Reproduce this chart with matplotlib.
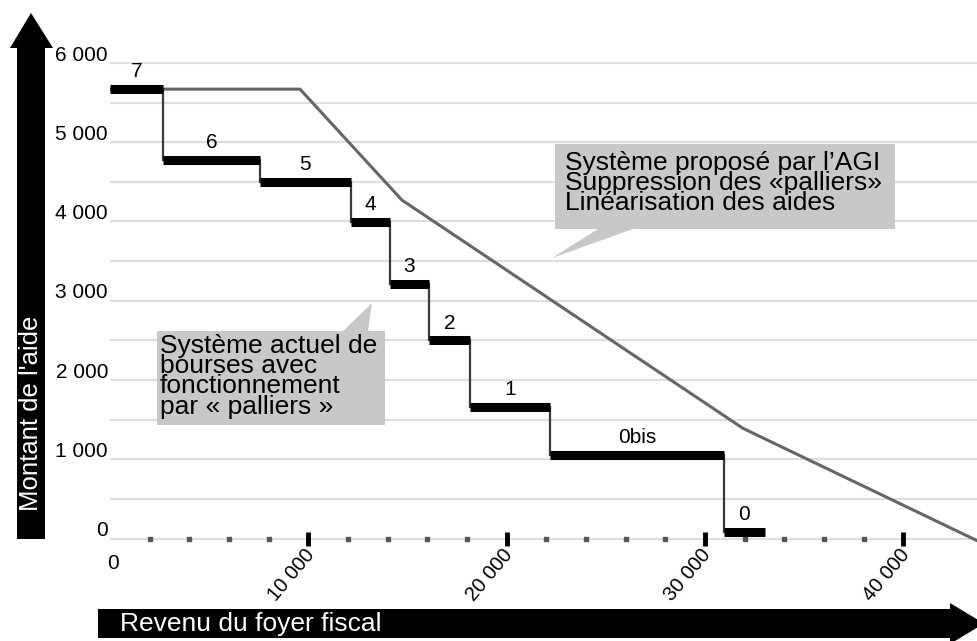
import matplotlib
matplotlib.use("Agg")
import matplotlib.pyplot as plt
from matplotlib.patches import Polygon
from matplotlib.transforms import Affine2D
import numpy as np

plt.rcParams["font.family"] = ["Liberation Sans", "DejaVu Sans"]

# --- data ---
step_names = ["7", "6", "5", "4", "3", "2", "1", "0bis", "0"]
step_amounts = [5670, 4780, 4500, 3990, 3210, 2500, 1665, 1050, 80]
step_bounds = [0, 2670, 7560, 12150, 14120, 16090, 18150, 22190, 30960, 33030]

proposed_x = [0, 9580, 14720, 31920, 44000]
proposed_y = [5670, 5670, 4270, 1390, -60]

y_ticks = [0, 1000, 2000, 3000, 4000, 5000, 6000]
y_labels = ["0", "1 000", "2 000", "3 000", "4 000", "5 000", "6 000"]
x_ticks = [10000, 20000, 30000, 40000]
x_labels = ["10 000", "20 000", "30 000", "40 000"]
x_minor = [v for v in range(2000, 40000, 2000) if v % 10000]
grid_y = list(range(0, 6001, 500))

W, H = 978, 641
fig = plt.figure(figsize=(W / 100, H / 100), dpi=100)
# pixel coords (origin top-left) -> figure
px = Affine2D().scale(1 / W, -1 / H).translate(0, 1) + fig.transFigure

ax = fig.add_axes([110 / W, (H - 560) / H, 868 / W, 530 / H])
ax.set_xlim(0, 43770)
ax.set_ylim(-271, 6416)
ax.axis("off")

# grid
ax.hlines(grid_y, 0, 43770, color="#dedede", lw=1.5, zorder=1)

# ticks on the zero line
ax.plot(x_minor, np.zeros(len(x_minor)), "s", ms=2.6, color="#555555", zorder=2)
ax.plot(x_ticks, np.zeros(len(x_ticks)), "|", ms=10, mew=3.5, color="black", zorder=2)

# tick labels
for v, lab in zip(y_ticks, y_labels):
    ax.text(-100, v + 100, lab, ha="right", va="center", fontsize=15, clip_on=False)
ax.text(150, -190, "0", ha="center", va="top", fontsize=15)
for v, lab in zip(x_ticks, x_labels):
    ax.text(v + 500, -90, lab, ha="right", va="top", rotation=50, fontsize=14.5)

# proposed linear system
ax.plot(proposed_x, proposed_y, color="#666666", lw=2.2, zorder=3,
        solid_joinstyle="round")

# current step system
for i, (name, amt) in enumerate(zip(step_names, step_amounts)):
    x0, x1 = step_bounds[i], step_bounds[i + 1]
    ax.plot([x0, x1], [amt, amt], color="black", lw=6.5, solid_capstyle="butt", zorder=5)
    if i + 1 < len(step_amounts):
        ax.plot([x1, x1], [amt, step_amounts[i + 1]], color="#3a3a3a", lw=1.6, zorder=4)
    ax.annotate(name, ((x0 + x1) / 2, amt), xytext=(0, 12.5), textcoords="offset points",
                ha="center", va="center", fontsize=15)

# callouts
gray = "#c8c8c8"
fig.patches.append(Polygon([(555, 144), (895, 144), (895, 229), (633, 229), (552, 258),
                            (598, 229), (555, 229)], closed=True, transform=px,
                           facecolor=gray, edgecolor="none", zorder=6))
fig.text(565, 151, "Système proposé par l’AGI\nSuppression des «palliers»\nLinéarisation des aides",
         transform=px, ha="left", va="top", fontsize=19, linespacing=0.8, zorder=7)

fig.patches.append(Polygon([(157, 331), (343, 331), (372, 303), (368, 331), (385, 331),
                            (385, 425), (157, 425)], closed=True, transform=px,
                           facecolor=gray, edgecolor="none", zorder=6))
fig.text(160, 334, "Système actuel de\nbourses avec\nfonctionnement\npar « palliers »",
         transform=px, ha="left", va="top", fontsize=19, linespacing=0.8, zorder=7)

# axis arrows
fig.patches.append(Polygon([(17, 539), (17, 48), (10, 48), (31, 13), (53, 48), (45, 48), (45, 539)],
                           closed=True, transform=px, facecolor="black", edgecolor="none"))
fig.text(31, 413, "Montant de l'aide", transform=px, rotation=90, ha="center", va="center",
         color="white", fontsize=18.5)
fig.patches.append(Polygon([(98, 609), (950, 609), (950, 603), (984, 623.5), (950, 644),
                            (950, 638), (98, 638)],
                           closed=True, transform=px, facecolor="black", edgecolor="none"))
fig.text(120, 624, "Revenu du foyer fiscal", transform=px, ha="left", va="center",
         color="white", fontsize=19)

fig.savefig("out.png", dpi=100)
